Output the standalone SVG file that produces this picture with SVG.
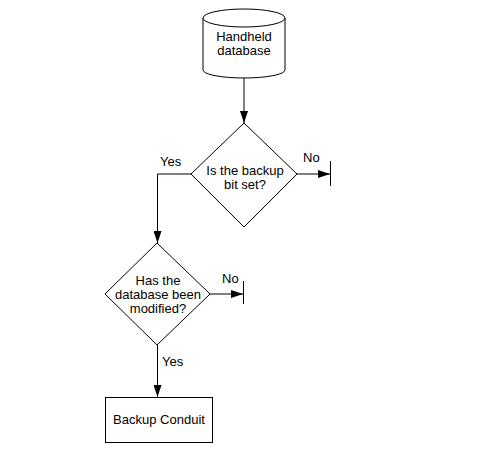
<svg xmlns="http://www.w3.org/2000/svg" width="480" height="470" viewBox="0 0 480 470">
<defs>
<marker id="arr" viewBox="0 0 12 8" refX="12" refY="4" markerWidth="12" markerHeight="8" markerUnits="userSpaceOnUse" orient="auto">
<path d="M0,0 L12,4 L0,8 Z" fill="#000"/>
</marker>
</defs>
<style>
.s{fill:#fff;stroke:#000;stroke-width:1}
.l{fill:none;stroke:#000;stroke-width:1}
text{font-family:"Liberation Sans",Arial,sans-serif;font-size:13px;fill:#000}
.c{text-anchor:middle}
</style>
<rect width="480" height="470" fill="#fff"/>
<g id="db">
<path class="s" d="M203,18 L203,70 A41,8 0 0 0 285,70 L285,18"/>
<ellipse class="s" cx="244" cy="18" rx="41" ry="9"/>
<text class="c" x="244" y="41">Handheld</text>
<text class="c" x="244" y="55">database</text>
</g>
<g id="d1">
<polygon class="s" points="244,123 297,174 244,227 191,174"/>
<text class="c" x="245" y="175">Is the backup</text>
<text class="c" x="245" y="189">bit set?</text>
</g>
<g id="d2">
<polygon class="s" points="157,243 210,294 157,345 105,294"/>
<text class="c" x="158" y="285">Has the</text>
<text class="c" x="158" y="299">database been</text>
<text class="c" x="158" y="313">modified?</text>
</g>
<g id="box">
<rect class="s" x="105.5" y="397.5" width="107" height="45"/>
<text class="c" x="159" y="424">Backup Conduit</text>
</g>
<g id="connectors">
<line class="l" x1="244" y1="78" x2="244" y2="123" marker-end="url(#arr)"/>
<line class="l" x1="297" y1="174" x2="330" y2="174" marker-end="url(#arr)"/>
<line class="l" x1="330.5" y1="161" x2="330.5" y2="186"/>
<text x="303" y="162">No</text>
<polyline class="l" points="191,174 157.5,174 157.5,243" marker-end="url(#arr)"/>
<text x="160" y="166">Yes</text>
<line class="l" x1="210" y1="294" x2="243" y2="294" marker-end="url(#arr)"/>
<line class="l" x1="243.5" y1="281" x2="243.5" y2="304"/>
<text x="222" y="283">No</text>
<line class="l" x1="157.5" y1="345" x2="157.5" y2="397" marker-end="url(#arr)"/>
<text x="162" y="366">Yes</text>
</g>
</svg>
